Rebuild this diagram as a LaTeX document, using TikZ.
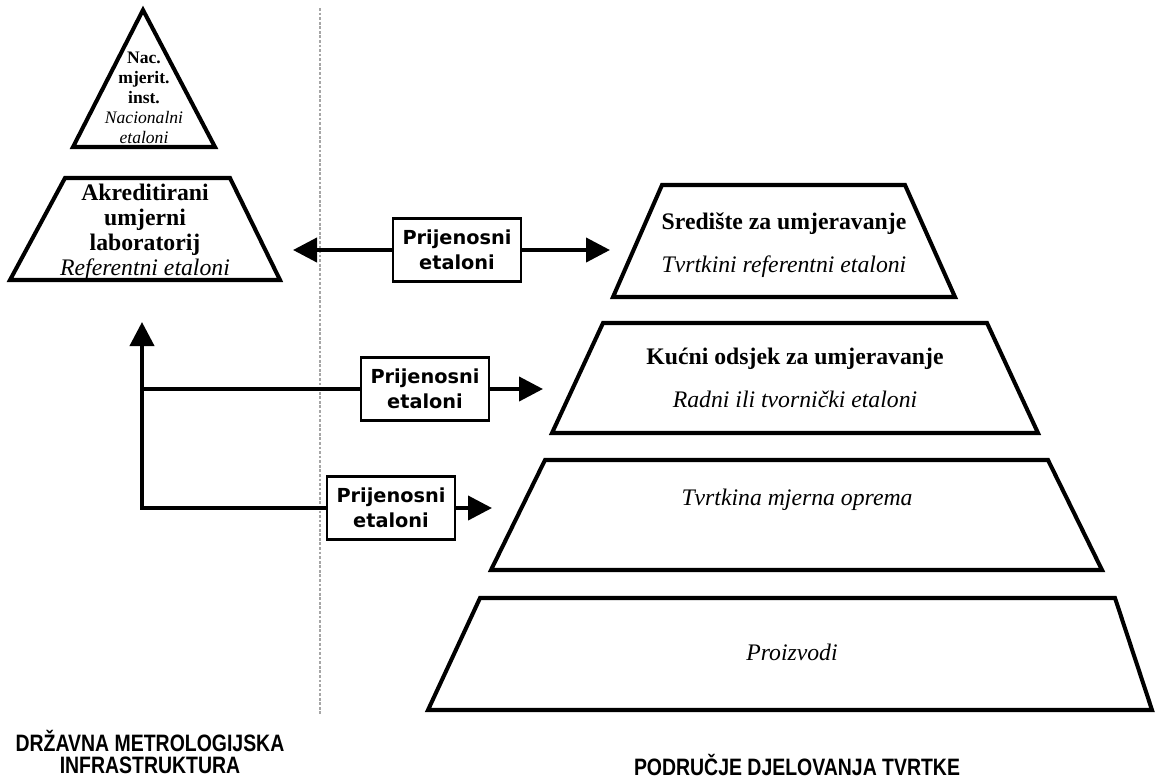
\documentclass[tikz,border=0pt]{standalone}
\usepackage{fontspec}
\setmainfont{Liberation Serif}
\newfontfamily\boxfont{DejaVu Sans}
\newfontfamily\capfont[FakeStretch=0.82]{Liberation Sans}
\usetikzlibrary{arrows.meta}

\tikzset{
  level/.style={line width=2.3pt, line join=miter},
  lvltext/.style={align=center, inner sep=0pt, font=\fontsize{13.5}{14.2}\selectfont},
  pebox/.style={draw, fill=white, line width=1.2pt, minimum width=2.56cm, minimum height=1.26cm,
    inner sep=1pt, align=center, font=\boxfont\bfseries\fontsize{11}{14}\selectfont},
  flow/.style={line width=2.3pt, -{Triangle[length=4.8mm,width=4.8mm]}},
  divider/.style={gray!70, line width=0.9pt, dash pattern=on 1.6pt off 1pt},
  region/.style={align=center, inner sep=0pt, font=\capfont\bfseries\fontsize{13.5}{12.5}\selectfont}
}

\begin{document}
\begin{tikzpicture}[x=0.02cm,y=-0.02cm]
\useasboundingbox (0,0) rectangle (1155,778);

% dividing line
\draw[divider] (320,8) -- (320,716);

% state side
\draw[level] (143,10) -- (215,147) -- (73,147) -- cycle;
\node[lvltext, font=\fontsize{10}{11.4}\selectfont] (nmi) at (144,98)
  {\textbf{Nac.}\\ \textbf{mjerit.}\\ \textbf{inst.}\\ \textit{Nacionalni}\\ \textit{etaloni}};
\draw[level] (65,178) -- (230,178) -- (280,280) -- (10,280) -- cycle;
\node[lvltext] (akred) at (145,232)
  {\textbf{Akreditirani}\\ \textbf{umjerni}\\ \textbf{laboratorij}\\ \textit{Referentni etaloni}};

% company side
\draw[level] (662,185) -- (905,185) -- (955,297) -- (613,297) -- cycle;
\node[lvltext] (sred) at (784,245)
  {\textbf{Središte za umjeravanje}\\[10.5pt] \textit{Tvrtkini referentni etaloni}};
\draw[level] (603,323) -- (987,323) -- (1038,433) -- (552,433) -- cycle;
\node[lvltext] (kucni) at (795,378)
  {\textbf{Kućni odsjek za umjeravanje}\\[10.5pt] \textit{Radni ili tvornički etaloni}};
\draw[level] (545,460) -- (1048,460) -- (1102,570) -- (491,570) -- cycle;
\node[lvltext] (oprema) at (797,500) {\textit{Tvrtkina mjerna oprema}};
\draw[level] (480,598) -- (1115,598) -- (1152,710) -- (428,710) -- cycle;
\node[lvltext] (proizv) at (792,652) {\textit{Proizvodi}};

% transfer standards
\node[pebox] (pe1) at (457,250) {Prijenosni\\etaloni};
\node[pebox] (pe2) at (425,389) {Prijenosni\\etaloni};
\node[pebox] (pe3) at (391,508) {Prijenosni\\etaloni};

\coordinate (toAkred) at (293,250);
\coordinate (toSred) at (610,250);
\coordinate (toKucni) at (543,389);
\coordinate (toOprema) at (492,508);
\coordinate (up) at (142,322);

\draw[flow] (pe1.west) -- (toAkred);
\draw[flow] (pe1.east) -- (toSred);
\draw[flow] (pe2.east) -- (toKucni);
\draw[flow] (pe3.east) -- (toOprema);
\draw[flow] (pe3.west) -| (up);
\draw[line width=2.3pt] (pe2.west) -- (pe2.west -| up);

% regions
\node[region] (state) at (150,752) {DRŽAVNA METROLOGIJSKA\\INFRASTRUKTURA};
\node[region] (company) at (797,765) {PODRUČJE DJELOVANJA TVRTKE};
\end{tikzpicture}
\end{document}
